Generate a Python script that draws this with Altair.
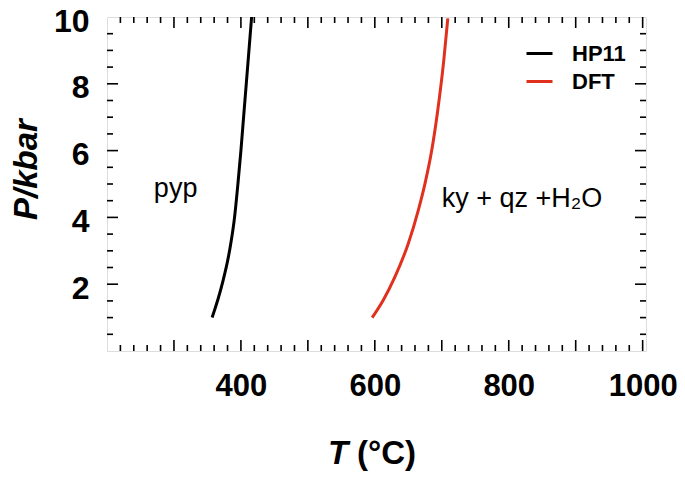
import altair as alt
import pandas as pd

# ---- data ----
hp11_T = [357, 372, 383, 390.5, 395.5, 400, 404, 408, 412, 416]
hp11_P = [1, 2, 3, 4, 5, 6, 7, 8, 9, 10]
dft_T = [596, 612.5, 630, 650, 665, 675, 685, 694, 703, 709]
dft_P = [1.0, 1.52, 2.22, 3.22, 4.22, 5.02, 6.01, 7.21, 8.71, 9.96]
series_names = ["HP11", "DFT"]
series_colors = ["#000000", "#e0301e"]

x_label_values = [400, 600, 800, 1000]
y_label_values = [2, 4, 6, 8, 10]
x_major_ticks = [300, 400, 500, 600, 700, 800, 900, 1000]
x_minor_ticks = [v for v in range(220, 1000, 20) if v % 100 != 0]
y_major_ticks = [2, 4, 6, 8]
y_minor_ticks = [v / 2 for v in range(1, 20) if v % 4 != 0]

ann_text = ["pyp", "ky + qz +H\u2082O"]
ann_T = [270, 700]
ann_P = [4.6, 4.32]

W, H = 539, 334
FONT = "Liberation Sans"

lines_df = pd.DataFrame(
    {"T": hp11_T + dft_T,
     "P": hp11_P + dft_P,
     "series": ["HP11"] * len(hp11_T) + ["DFT"] * len(dft_T)}
)

xs = alt.Scale(domain=[200, 1005], nice=False, zero=False)
ys = alt.Scale(domain=[0, 10], nice=False, zero=False)

x_axis = alt.Axis(values=x_label_values, format="d", ticks=False, domain=False,
                  grid=False, labelPadding=20, labelFontSize=31,
                  labelFontWeight="bold", labelFont=FONT, labelColor="black",
                  title=None)
y_axis = alt.Axis(values=y_label_values, format="d", ticks=False, domain=False,
                  grid=False, labelPadding=18, labelFontSize=32,
                  labelFontWeight="bold", labelFont=FONT, labelColor="black",
                  labelOffset=4,
                  title="P/kbar", titleFont=FONT, titleFontSize=33,
                  titleFontWeight="bold", titleFontStyle="italic",
                  titleColor="black", titleX=-71, titleY=152,
                  titleAlign="center", titleBaseline="alphabetic")

lines = alt.Chart(lines_df).mark_line(strokeWidth=3, interpolate="monotone").encode(
    x=alt.X("T:Q", scale=xs, axis=x_axis),
    y=alt.Y("P:Q", scale=ys, axis=y_axis),
    color=alt.Color("series:N",
                    scale=alt.Scale(domain=series_names, range=series_colors),
                    legend=alt.Legend(orient="none", legendX=418, legendY=22,
                                      title=None, symbolType="stroke",
                                      symbolSize=676, symbolStrokeWidth=3,
                                      labelFont=FONT, labelFontSize=22,
                                      labelFontWeight="bold", labelColor="black",
                                      labelOffset=18, rowPadding=2, padding=0)),
    order="P:Q",
)

def xticks(vals, length, top):
    df = pd.DataFrame({"v": vals})
    if top:
        yy, yy2 = alt.value(0), alt.value(length)
    else:
        yy, yy2 = alt.value(H), alt.value(H - length)
    return alt.Chart(df).mark_rule(color="black", strokeWidth=1.6).encode(
        x=alt.X("v:Q", scale=xs), y=yy, y2=yy2)

def yticks(vals, length, right):
    df = pd.DataFrame({"v": vals})
    if right:
        xx, xx2 = alt.value(W), alt.value(W - length)
    else:
        xx, xx2 = alt.value(0), alt.value(length)
    return alt.Chart(df).mark_rule(color="black", strokeWidth=1.6).encode(
        y=alt.Y("v:Q", scale=ys), x=xx, x2=xx2)

tick_layers = [
    xticks(x_major_ticks, 11, False), xticks(x_minor_ticks, 6, False),
    xticks(x_major_ticks, 11, True), xticks(x_minor_ticks, 6, True),
    yticks(y_major_ticks, 11, False), yticks(y_minor_ticks, 6, False),
    yticks(y_major_ticks, 11, True), yticks(y_minor_ticks, 6, True),
]

ann_df = pd.DataFrame({"T": ann_T, "P": ann_P, "text": ann_text})
ann = alt.Chart(ann_df).mark_text(align="left", baseline="alphabetic",
                                   font=FONT, fontSize=27, color="black").encode(
    x=alt.X("T:Q", scale=xs), y=alt.Y("P:Q", scale=ys), text="text:N")

xt1 = alt.Chart(pd.DataFrame({"t": ["T"]})).mark_text(
    align="left", baseline="alphabetic", font=FONT, fontSize=33,
    fontWeight="bold", fontStyle="italic", color="black").encode(
    x=alt.value(221), y=alt.value(447), text="t:N")
xt2 = alt.Chart(pd.DataFrame({"t": ["(\u00b0C)"]})).mark_text(
    align="left", baseline="alphabetic", font=FONT, fontSize=33,
    fontWeight="bold", color="black").encode(
    x=alt.value(250), y=alt.value(447), text="t:N")

chart = alt.layer(*tick_layers, lines, ann, xt1, xt2).properties(
    width=W, height=H,
    autosize=alt.AutoSizeParams(type="none"),
    padding={"left": 99, "top": 9, "right": 31, "bottom": 120},
).configure_view(stroke="black", strokeWidth=2).configure(background="white")

chart.save("out.html", embed_options={"renderer": "svg", "actions": False})
